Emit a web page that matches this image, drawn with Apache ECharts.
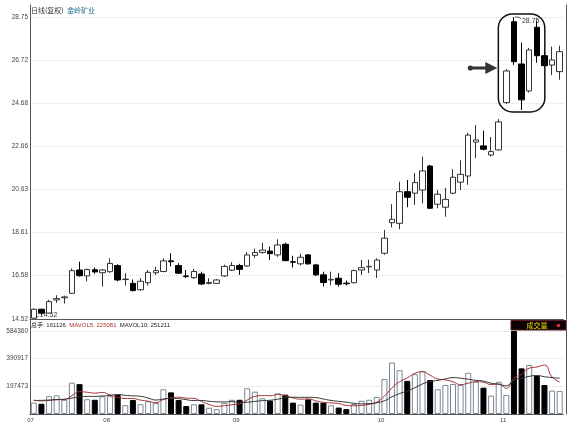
<!DOCTYPE html>
<html>
<head>
<meta charset="utf-8">
<script src="https://cdn.jsdelivr.net/npm/echarts@6/dist/echarts.min.js"></script>
<style>
    html, body { margin: 0; padding: 0; background: #fff; }
    #main { width: 575px; height: 426px; }
</style>
</head>
<body>
<div id="main"></div>
<script>
// 日线 K线数据 (开, 收, 低, 高)
const opens  = [14.56,14.98,14.80,15.42,15.52,15.73,16.83,16.55,16.84,16.70,
                16.75,17.04,16.38,16.20,15.90,16.23,16.70,16.76,17.26,17.04,
                16.55,16.47,16.64,16.20,16.20,16.55,16.82,17.04,17.02,17.52,
                17.66,17.72,17.54,18.04,17.22,17.12,17.54,17.07,16.60,16.36,
                16.44,16.21,16.23,16.83,16.98,16.83,17.62,19.06,19.03,20.52,
                20.45,20.60,21.73,19.93,19.79,20.45,20.97,21.26,22.86,22.68,
                22.25,22.49,24.72,28.53,26.54,25.27,28.27,26.93,26.49,26.18];
const closes = [14.98,14.79,15.34,15.48,15.56,16.80,16.56,16.85,16.74,16.83,
                17.14,16.36,16.40,15.86,16.30,16.72,16.80,17.26,17.22,16.68,
                16.52,16.76,16.17,16.24,16.36,17.00,17.04,16.86,17.54,17.65,
                17.77,17.60,18.01,17.27,17.20,17.43,17.12,16.60,16.24,16.39,
                16.16,16.18,16.80,16.94,17.00,17.30,18.33,19.22,20.52,20.26,
                20.95,21.50,19.74,20.40,20.16,21.20,21.34,23.19,22.96,22.52,
                22.41,23.81,26.21,26.65,24.85,27.20,26.93,26.46,26.73,27.12];
const lows   = [14.52,14.70,14.78,15.28,15.25,15.70,16.52,16.30,16.65,16.05,
                16.70,16.30,16.10,15.82,15.85,16.10,16.60,16.72,17.00,16.65,
                16.45,16.40,16.12,16.15,16.18,16.50,16.78,16.60,16.98,17.40,
                17.60,17.30,17.45,17.25,16.95,17.05,17.08,16.55,16.05,16.10,
                16.05,16.10,16.20,16.60,16.68,16.45,17.55,18.84,18.75,19.79,
                19.90,19.97,19.70,19.74,19.34,20.40,20.60,20.85,22.10,22.47,
                22.18,22.45,24.65,26.50,24.37,25.20,26.60,26.40,26.02,25.80];
const highs  = [15.02,15.00,15.42,15.64,15.62,16.90,17.22,16.90,16.95,16.88,
                17.38,17.10,16.68,16.38,16.45,16.83,16.98,17.38,17.62,17.15,
                16.83,16.88,16.75,16.44,16.40,17.08,17.20,17.12,17.68,17.84,
                18.12,17.93,18.28,18.12,17.50,17.60,17.58,17.12,16.75,16.75,
                16.68,16.33,16.85,17.30,17.32,17.38,18.72,19.93,20.99,21.07,
                21.40,22.17,21.78,20.60,20.70,21.58,22.00,23.30,23.66,23.40,
                23.10,23.94,26.30,28.75,27.54,27.30,28.58,27.10,27.36,27.40];

// 成交量 (总手)
const volumes = [80000,72000,125000,131000,100000,220000,210000,104000,100000,125000,
                 125000,134000,62000,98000,69000,89000,77000,174000,152000,98000,
                 56000,68000,68000,44000,34000,78000,100000,100000,181000,157000,
                 110000,94000,145000,136000,80000,66000,103000,80000,80000,61000,
                 45000,34000,70000,93000,100000,120000,246000,362000,308000,233000,
                 280000,303000,239000,174000,204000,211000,204000,290000,227000,185000,
                 129000,227000,134000,584000,321000,345000,267000,204000,164000,161126];
const mavol5 = [98000,92000,96000,100000,101600,129600,157200,153000,146800,151800,
                132800,117600,109200,108800,97600,90400,79000,101400,112200,118000,
                111400,109600,88400,66800,54000,58400,64800,71200,98600,123200,
                129600,128400,137400,128400,113000,104200,106000,93000,81800,78000,
                73800,60000,58000,60600,68400,83400,125800,184200,227200,253800,
                285800,297200,272600,245800,240000,226200,206400,216600,227200,223400,
                207000,211600,180400,251800,279000,322200,330200,344200,260200,225081];
const mavol10 = [95000,96000,98000,102000,104000,112000,120000,124000,124000,126700,
                 131200,137400,131100,127800,124700,111600,98300,105300,110500,107800,
                 100900,94300,94900,89500,86000,84900,87200,79800,82700,88600,
                 94000,96600,104300,113500,118100,116900,117200,115200,105100,95500,
                 89000,83000,75500,71200,73200,78600,92900,121100,143900,161100,
                 184600,211500,228400,236500,246900,256000,251800,244600,236500,231700,
                 216600,209000,198500,239500,251200,264600,270900,262300,256000,251211];

// 交易日序号 和 月份
const dayNums = opens.map((v, i) => String(i + 1));
const months = ['07', '08', '09', '10', '11'];
const monthStart = [0, 10, 27, 46, 62];

// 坐标刻度
const priceTicks = [14.52, 16.58, 18.61, 20.63, 22.66, 24.68, 26.72, 28.75];
const volumeTicks = [197473, 390917, 584360];
const priceMin = 14.52, priceMax = 29.32;
const volMax = 661000;

let myChart = echarts.init(document.getElementById('main'));

let candles = opens.map((o, i) => [o, closes[i], lows[i], highs[i]]);
let volItems = volumes.map((v, i) => ({
    value: v,
    itemStyle: closes[i] >= opens[i]
        ? { color: '#fff', borderColor: '#7a8896', borderWidth: 1 }
        : { color: '#000', borderColor: '#000', borderWidth: 1 }
}));

const axisColor = '#555';
const labelColor = '#444';

myChart.setOption({
    animation: false,
    textStyle: { fontFamily: "'Liberation Sans', 'Noto Sans CJK SC', sans-serif" },
    grid: [
        { left: 30, right: 11.5, top: 5, height: 314, outerBoundsMode: 'none' },
        { left: 30, right: 11.5, top: 320, height: 94, outerBoundsMode: 'none' }
    ],
    xAxis: [
        {
            type: 'category', gridIndex: 0, data: dayNums, boundaryGap: true,
            axisLine: { lineStyle: { color: axisColor } },
            axisTick: { show: false }, axisLabel: { show: false }, splitLine: { show: false }
        },
        {
            type: 'category', gridIndex: 1, data: dayNums, boundaryGap: true,
            axisLine: { lineStyle: { color: axisColor } },
            axisTick: { show: false }, splitLine: { show: false },
            axisLabel: {
                interval: (idx) => monthStart.indexOf(idx) >= 0,
                formatter: (val, idx) => months[monthStart.indexOf(idx)],
                align: 'right', fontSize: 6, color: labelColor, margin: 3
            }
        }
    ],
    yAxis: [
        {
            type: 'value', gridIndex: 0, min: priceMin, max: priceMax, position: 'left',
            axisLine: { show: true, lineStyle: { color: axisColor } },
            axisTick: { show: false, customValues: priceTicks },
            axisLabel: { customValues: priceTicks, formatter: v => v.toFixed(2), fontSize: 6.5, color: labelColor, margin: 2 },
            splitLine: { show: true, lineStyle: { color: '#dcdcdc', type: 'dotted' } }
        },
        {
            type: 'value', gridIndex: 0, min: priceMin, max: priceMax, position: 'right', offset: 2.5,
            axisLine: { show: true, lineStyle: { color: axisColor } },
            axisTick: { show: false }, axisLabel: { show: false }, splitLine: { show: false }
        },
        {
            type: 'value', gridIndex: 1, min: 0, max: volMax, position: 'left',
            axisLine: { show: true, lineStyle: { color: axisColor } },
            axisTick: { show: false, customValues: volumeTicks },
            axisLabel: { customValues: volumeTicks, formatter: v => String(Math.round(v)), fontSize: 6.5, color: labelColor, margin: 2 },
            splitLine: { show: true, lineStyle: { color: '#dcdcdc', type: 'dotted' } }
        },
        {
            type: 'value', gridIndex: 1, min: 0, max: volMax, position: 'right', offset: 2.5,
            axisLine: { show: true, lineStyle: { color: axisColor } },
            axisTick: { show: false }, axisLabel: { show: false }, splitLine: { show: false }
        }
    ],
    series: [
        {
            type: 'candlestick', xAxisIndex: 0, yAxisIndex: 0, data: candles, barWidth: 6,
            itemStyle: { color: '#fff', color0: '#000', borderColor: '#333', borderColor0: '#000', borderWidth: 1 }
        },
        { type: 'bar', xAxisIndex: 1, yAxisIndex: 2, data: volItems, barWidth: 6 },
        {
            type: 'line', xAxisIndex: 1, yAxisIndex: 2, data: mavol5, showSymbol: false, smooth: true,
            lineStyle: { color: '#a83232', width: 1 }, z: 5
        },
        {
            type: 'line', xAxisIndex: 1, yAxisIndex: 2, data: mavol10, showSymbol: false, smooth: true,
            lineStyle: { color: '#333', width: 1 }, z: 5
        }
    ]
});

// 标注: 最高/最低价, 圈和箭头
const hiIdx = highs.indexOf(Math.max(...highs));
const loIdx = lows.indexOf(Math.min(...lows));
const hiPt = myChart.convertToPixel({ xAxisIndex: 0, yAxisIndex: 0 }, [hiIdx, highs[hiIdx]]);
const loPt = myChart.convertToPixel({ xAxisIndex: 0, yAxisIndex: 0 }, [loIdx, lows[loIdx]]);
const ringFrom = 62, ringTo = 66, ringTop = 28.9, ringBottom = 24.28, arrowPrice = 26.35;
const rA = myChart.convertToPixel({ xAxisIndex: 0, yAxisIndex: 0 }, [ringFrom, ringTop]);
const rB = myChart.convertToPixel({ xAxisIndex: 0, yAxisIndex: 0 }, [ringTo, ringBottom]);
const arrowY = myChart.convertToPixel({ xAxisIndex: 0, yAxisIndex: 0 }, [ringFrom, arrowPrice])[1];
const ringLeft = rA[0] - 8;

const last = volumes.length - 1;
const smallFont = 6;

myChart.setOption({
    graphic: { elements: [
        { type: 'text', x: 31, y: 10.5, style: { text: '日线(复权)', fill: '#333', fontSize: 7, fontFamily: 'Noto Sans CJK SC', verticalAlign: 'middle' } },
        { type: 'text', x: 67, y: 10.5, style: { text: '金岭矿业', fill: '#1e6a8c', fontSize: 7, fontFamily: 'Noto Sans CJK SC', verticalAlign: 'middle' } },
        {
            type: 'text', x: 31, y: 325, style: {
                text: '{a|总手: ' + volumes[last] + '} {b|MAVOL5: ' + mavol5[last] + '} {a|MAVOL10: ' + mavol10[last] + '}',
                verticalAlign: 'middle',
                rich: {
                    a: { fill: '#222', fontSize: smallFont, fontFamily: "'Liberation Sans', 'Noto Sans CJK SC'" },
                    b: { fill: '#b03030', fontSize: smallFont, fontFamily: "'Liberation Sans'" }
                }
            }
        },
        // 成交量 标签框
        { type: 'rect', shape: { x: 511, y: 320.5, width: 55, height: 9.5 }, style: { fill: '#0d0000', stroke: '#5a1a26', lineWidth: 1 } },
        { type: 'text', x: 537, y: 325.5, style: { text: '成交量', fill: '#e6e600', fontSize: 7, fontFamily: 'Noto Sans CJK SC', align: 'center', verticalAlign: 'middle' } },
        { type: 'circle', shape: { cx: 558.5, cy: 325.5, r: 1.8 }, style: { fill: '#e03040' } },
        // 最高价
        { type: 'polyline', shape: { points: [[hiPt[0] + 1, hiPt[1]], [hiPt[0] + 5, hiPt[1]], [hiPt[0] + 7, hiPt[1] + 2]] }, style: { stroke: '#333', lineWidth: 0.8, fill: null } },
        { type: 'text', x: hiPt[0] + 8, y: hiPt[1] + 3.5, style: { text: highs[hiIdx].toFixed(2), fill: '#333', fontSize: 7, verticalAlign: 'middle' } },
        // 最低价
        { type: 'polyline', shape: { points: [[loPt[0] + 1, loPt[1]], [loPt[0] + 5, loPt[1] - 3]] }, style: { stroke: '#333', lineWidth: 0.8, fill: null } },
        { type: 'text', x: loPt[0] + 6, y: loPt[1] - 4, style: { text: lows[loIdx].toFixed(2), fill: '#333', fontSize: 7, verticalAlign: 'middle' } },
        // 圈
        {
            type: 'rect', z: 10,
            shape: { x: ringLeft, y: rA[1], width: rB[0] - rA[0] + 16, height: rB[1] - rA[1], r: 14 },
            style: { fill: null, stroke: '#111', lineWidth: 1.5 }
        },
        // 箭头
        { type: 'circle', z: 10, shape: { cx: ringLeft - 28, cy: arrowY, r: 2.6 }, style: { fill: '#333' } },
        { type: 'line', z: 10, shape: { x1: ringLeft - 28, y1: arrowY, x2: ringLeft - 12, y2: arrowY }, style: { stroke: '#333', lineWidth: 3 } },
        {
            type: 'polygon', z: 10,
            shape: { points: [[ringLeft - 13, arrowY - 6], [ringLeft - 1, arrowY], [ringLeft - 13, arrowY + 6]] },
            style: { fill: '#333' }
        }
    ] }
});

window.addEventListener('resize', function () {
    myChart.resize();
});
</script>
</body>
</html>
